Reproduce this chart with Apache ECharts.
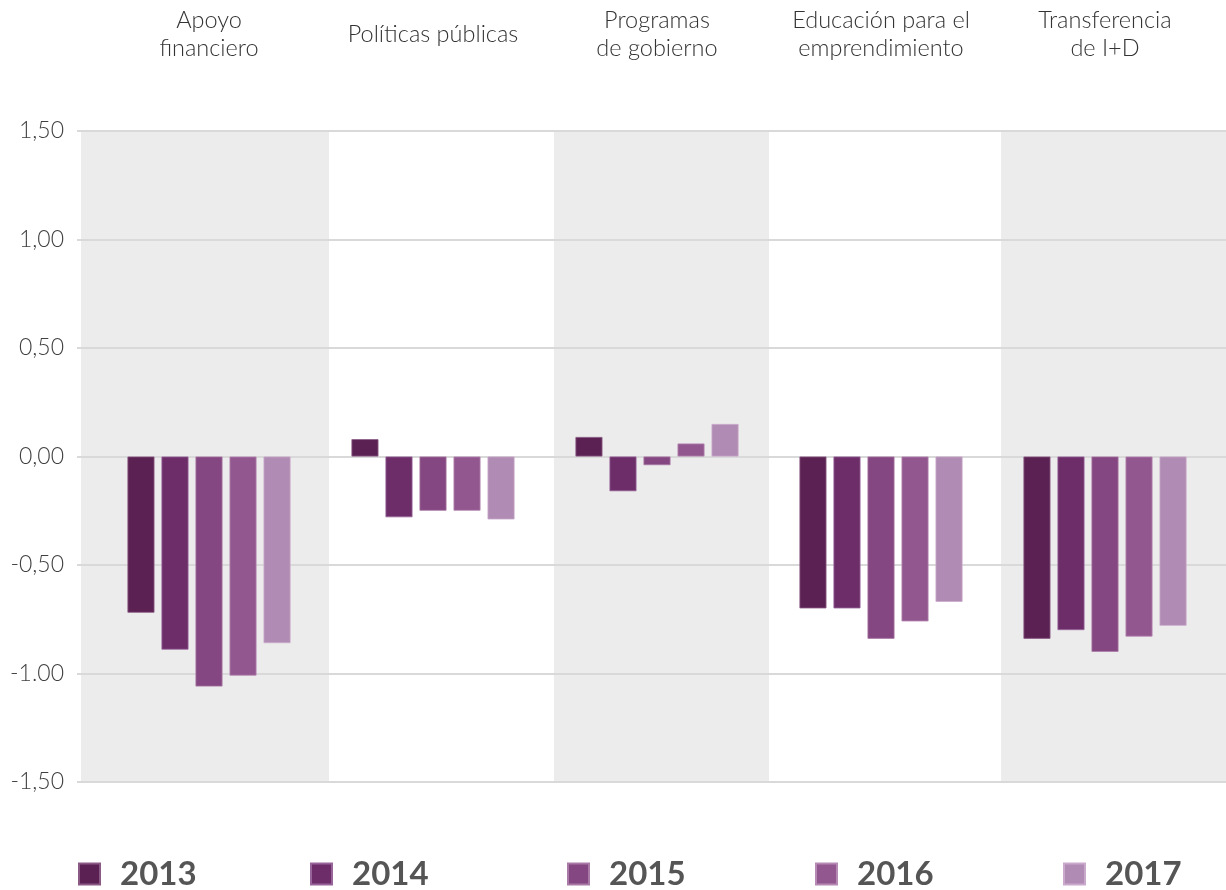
<!DOCTYPE html>
<html>
<head>
<meta charset="utf-8">
<script src="https://cdn.jsdelivr.net/npm/echarts@6/dist/echarts.min.js"></script>
<style>
  html, body { margin: 0; padding: 0; background: #ffffff; }
  #chart { width: 1226px; height: 890px; }
</style>
</head>
<body>
<div id="chart"></div>
<script>
// Categories (top labels) and yearly values per category
const categories = [
  'Apoyo\nfinanciero',
  'Políticas públicas',
  'Programas\nde gobierno',
  'Educación para el\nemprendimiento',
  'Transferencia\nde I+D'
];
const years = ['2013', '2014', '2015', '2016', '2017'];
const values2013 = [-0.72, 0.08, 0.09, -0.70, -0.84];
const values2014 = [-0.89, -0.28, -0.16, -0.70, -0.80];
const values2015 = [-1.06, -0.25, -0.04, -0.84, -0.90];
const values2016 = [-1.01, -0.25, 0.06, -0.76, -0.83];
const values2017 = [-0.86, -0.29, 0.15, -0.67, -0.78];
const tickLabels = { '1.5': '1,50', '1': '1,00', '0.5': '0,50', '0': '0,00', '-0.5': '-0,50', '-1': '-1.00', '-1.5': '-1,50' };

const seriesValues = [values2013, values2014, values2015, values2016, values2017];
const colors = ['#5b2152', '#6d2d68', '#844781', '#93578f', '#b08bb3'];
const edgeColors = ['#8a5a85', '#98659a', '#a97aa6', '#b68ab3', '#c9a9cc'];

// Shaded column bands, expressed in category units of the background axis
const bandRanges = [[-0.571, 0.536], [1.54, 2.5], [3.536, 4.54]];

const chart = echarts.init(document.getElementById('chart'), null, { renderer: 'canvas' });

const barSeries = years.map((y, i) => ({
  name: y,
  type: 'bar',
  xAxisIndex: 1,
  yAxisIndex: 1,
  data: seriesValues[i],
  barWidth: 27,
  barGap: '26%',
  itemStyle: { color: colors[i], borderColor: edgeColors[i], borderWidth: 0.8 },
  emphasis: { disabled: true }
}));

const legendLefts = [78, 310, 567, 815, 1063];
const legends = years.map((y, i) => ({
  data: [y],
  left: legendLefts[i],
  top: 856,
  padding: 0,
  icon: 'rect',
  itemWidth: 21,
  itemHeight: 21,
  itemGap: 0,
  selectedMode: false,
  textStyle: {
    fontFamily: 'Lato',
    fontWeight: 'bold',
    fontSize: 33,
    color: '#555555',
    lineHeight: 36,
    padding: [0, 0, 0, 15]
  }
}));

chart.setOption({
  animation: false,
  backgroundColor: '#ffffff',
  legend: legends,
  grid: [
    { left: 77, right: 0, top: 131, bottom: 108 },
    { left: 97, right: 9, top: 131, bottom: 108 }
  ],
  xAxis: [
    {
      gridIndex: 0, type: 'value', min: -0.589, max: 4.54,
      show: false
    },
    {
      gridIndex: 1, type: 'category', data: categories, position: 'top',
      axisLine: { show: false }, axisTick: { show: false },
      axisLabel: {
        interval: 0,
        margin: 97,
        verticalAlign: 'middle',
        fontFamily: 'Lato',
        fontWeight: 300,
        fontSize: 23.5,
        lineHeight: 28,
        color: '#333333'
      }
    }
  ],
  yAxis: [
    {
      gridIndex: 0, type: 'value', min: -1.5, max: 1.5, interval: 0.5,
      axisLine: { show: false }, axisTick: { show: false },
      axisLabel: {
        margin: 13,
        fontFamily: 'Lato',
        fontWeight: 300,
        fontSize: 23,
        color: '#404040',
        formatter: v => tickLabels[String(Math.round(v * 10) / 10)] || ''
      },
      splitLine: { show: true, lineStyle: { color: '#d9d9d9', width: 2 } }
    },
    {
      gridIndex: 1, type: 'value', min: -1.5, max: 1.5, interval: 0.5,
      show: false, splitLine: { show: false }
    }
  ],
  series: [
    {
      type: 'line',
      xAxisIndex: 0,
      yAxisIndex: 0,
      data: [],
      z: -1,
      silent: true,
      clip: false,
      markArea: {
        silent: true,
        z: -1,
        itemStyle: { color: '#ececec' },
        data: bandRanges.map(r => [
          { xAxis: r[0], yAxis: 1.5 },
          { xAxis: r[1], yAxis: -1.518 }
        ])
      }
    }
  ].concat(barSeries)
});
</script>
</body>
</html>
